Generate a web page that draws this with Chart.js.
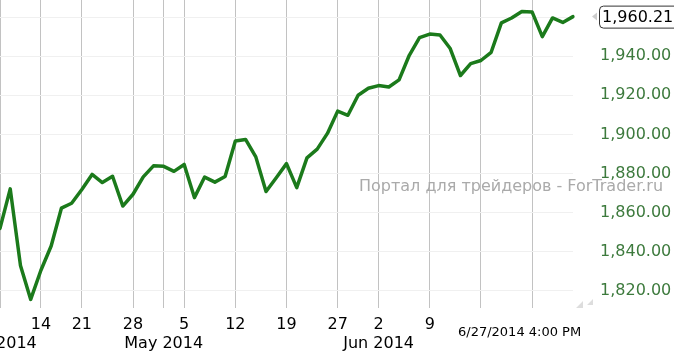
<!DOCTYPE html>
<html>
<head>
<meta charset="utf-8">
<script src="https://cdn.jsdelivr.net/npm/chart.js@4/dist/chart.umd.min.js"></script>
<style>
  html, body { margin: 0; padding: 0; background: #fff; }
  #wrap { width: 674px; height: 354px; position: relative; overflow: hidden; }
</style>
</head>
<body>
<div id="wrap"><canvas id="spx" width="674" height="354"></canvas></div>
<script>
/* ─── DATA ────────────────────────────────────────────────── */
const dates = [
  '4/8', '4/9', '4/10', '4/11', '4/14', '4/15', '4/16', '4/17', '4/21', '4/22',
  '4/23', '4/24', '4/25', '4/28', '4/29', '4/30', '5/1', '5/2', '5/5', '5/6',
  '5/7', '5/8', '5/9', '5/12', '5/13', '5/14', '5/15', '5/16', '5/19', '5/20',
  '5/21', '5/22', '5/23', '5/27', '5/28', '5/29', '5/30', '6/2', '6/3', '6/4',
  '6/5', '6/6', '6/9', '6/10', '6/11', '6/12', '6/13', '6/16', '6/17', '6/18',
  '6/19', '6/20', '6/23', '6/24', '6/25', '6/26', '6/27',
];
const closes = [
  1851.96, 1872.18, 1833.08, 1815.69, 1830.61, 1842.98, 1862.31, 1864.85, 1871.89, 1879.55,
  1875.39, 1878.61, 1863.40, 1869.43, 1878.33, 1883.95, 1883.68, 1881.14, 1884.66, 1867.72,
  1878.21, 1875.63, 1878.48, 1896.65, 1897.45, 1888.53, 1870.85, 1877.86, 1885.08, 1872.83,
  1888.03, 1892.49, 1900.53, 1911.91, 1909.78, 1920.03, 1923.57, 1924.97, 1924.24, 1927.88,
  1940.46, 1949.44, 1951.27, 1950.79, 1943.89, 1930.11, 1936.16, 1937.78, 1941.99, 1956.98,
  1959.48, 1962.87, 1962.61, 1949.98, 1959.53, 1957.22, 1960.21,
];
const dayTicks   = { '4/14': '14', '4/21': '21', '4/28': '28', '5/5': '5', '5/12': '12',
                     '5/19': '19', '5/27': '27', '6/2': '2', '6/9': '9' };
const monthTicks = { '4/8': 'Apr 2014', '5/1': 'May 2014', '6/2': 'Jun 2014' };
const gridDates  = ['4/8', '4/14', '4/21', '4/28', '5/1', '5/5', '5/12', '5/19', '5/27',
                    '6/2', '6/9', '6/16', '6/23'];
const lastPrice  = 1960.21;
const stamp      = '6/27/2014 4:00 PM';
const watermark  = 'Портал для трейдеров - ForTrader.ru';

/* ─── HELPERS ─────────────────────────────────────────────── */
const FONT = 'DejaVu Sans';
const fmt = v => v.toFixed(2).replace(/\B(?=(\d{3})+(?!\d))/g, ',');

/* ─── OVERLAYS ────────────────────────────────────────────── */
const overlays = {
  id: 'overlays',
  beforeDatasetsDraw(chart) {
    const c = chart.ctx;
    c.save();
    c.font = `16px "${FONT}"`;
    c.fillStyle = '#aaaaaa';
    c.textBaseline = 'middle';
    c.textAlign = 'left';
    c.fillText(watermark, 359, 187);
    c.restore();
  },
  afterDraw(chart) {
    const c = chart.ctx;
    const y = chart.scales.y.getPixelForValue(lastPrice);
    const right = chart.chartArea.right;
    c.save();

    // last price box
    c.beginPath();
    c.roundRect(right + 26.5, y - 10.5, 90, 22, 4);
    c.fillStyle = '#fff';
    c.fill();
    c.strokeStyle = '#333';
    c.lineWidth = 1;
    c.stroke();
    c.fillStyle = '#000';
    c.font = `16px "${FONT}"`;
    c.textBaseline = 'middle';
    c.fillText(fmt(lastPrice), right + 29, y + 1);

    // small pointer
    c.beginPath();
    c.moveTo(right + 19, y);
    c.lineTo(right + 24, y - 4);
    c.lineTo(right + 24, y + 4);
    c.closePath();
    c.fillStyle = '#cccccc';
    c.fill();

    // grip corner
    const b = chart.chartArea.bottom;
    c.beginPath();
    c.moveTo(right + 10, b - 7);
    c.lineTo(right + 10, b);
    c.lineTo(right + 3, b);
    c.closePath();
    c.moveTo(right + 20, b - 9);
    c.lineTo(right + 20, b - 3);
    c.lineTo(right + 14, b - 3);
    c.closePath();
    c.fillStyle = '#dddddd';
    c.fill();

    // timestamp
    c.fillStyle = '#000';
    c.font = `13px "${FONT}"`;
    c.textAlign = 'left';
    c.fillText(stamp, 458, 333);
    c.restore();
  },
};

/* ─── CHART ───────────────────────────────────────────────── */
new Chart(document.getElementById('spx'), {
  type: 'line',
  data: {
    labels: dates,
    datasets: [{
      data: closes,
      borderColor: '#1b7a1b',
      borderWidth: 3.5,
      borderJoinStyle: 'round',
      borderCapStyle: 'round',
      pointRadius: 0,
      tension: 0,
      fill: false,
    }],
  },
  options: {
    responsive: false,
    animation: false,
    layout: { padding: 0 },
    plugins: { legend: { display: false }, tooltip: { enabled: false } },
    scales: {
      x: {
        type: 'category',
        offset: false,
        border: { display: false },
        grid: {
          drawTicks: false,
          color: ctx => gridDates.includes(dates[ctx.index]) ? '#c2c2c2' : 'rgba(0,0,0,0)',
        },
        ticks: {
          autoSkip: false,
          maxRotation: 0,
          padding: 7,
          color: '#000',
          font: { family: FONT, size: 16 },
          callback: (v, i) => {
            const d = dates[i];
            const day = dayTicks[d] || '';
            return monthTicks[d] ? [day, monthTicks[d]] : day;
          },
        },
        afterFit: s => { s.height = 46; s.paddingLeft = 0; s.paddingRight = 0; },
      },
      y: {
        position: 'right',
        min: 1811.3,
        max: 1968.7,
        border: { display: false },
        grid: { drawTicks: false, color: '#f0f0f0' },
        ticks: {
          stepSize: 20,
          includeBounds: false,
          padding: 27,
          color: '#3d7a3d',
          font: { family: FONT, size: 16 },
          callback: v => v === 1960 ? '' : fmt(v),
        },
        afterFit: s => { s.width = 101; s.paddingTop = 0; s.paddingBottom = 0; },
      },
    },
  },
  plugins: [overlays],
});
</script>
</body>
</html>
